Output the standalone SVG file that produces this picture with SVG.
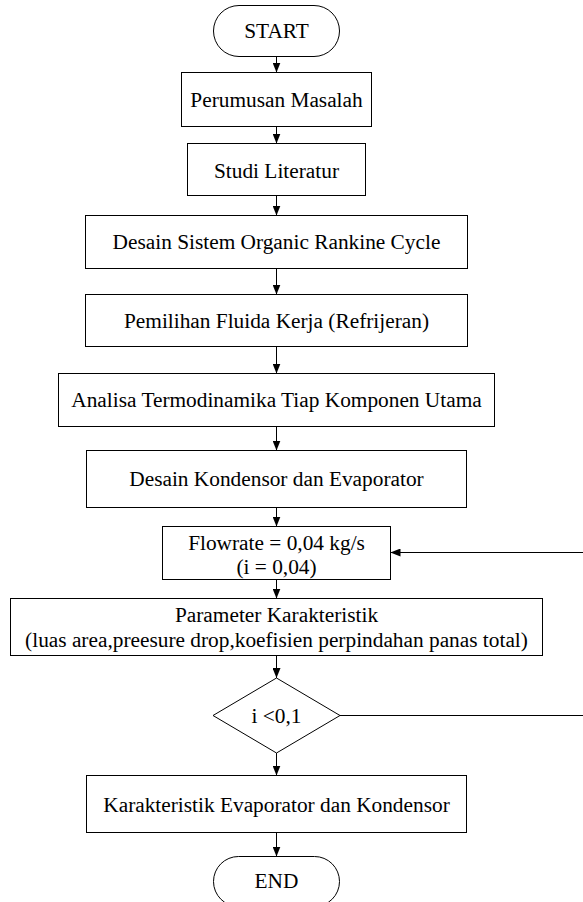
<svg xmlns="http://www.w3.org/2000/svg" width="583" height="902" viewBox="0 0 583 902">
  <style>
    .shape { fill: #ffffff; stroke: #000000; stroke-width: 1; }
    .label { font-family: "Liberation Serif", "Times New Roman", serif; font-size: 21.33px; fill: #000000; text-anchor: middle; }
    .flow { fill: none; stroke: #000000; stroke-width: 1; marker-end: url(#arrow); }
  </style>
  <defs>
    <marker id="arrow" markerUnits="userSpaceOnUse" markerWidth="10" markerHeight="8" refX="10" refY="4" orient="auto">
      <path d="M0,0 L10,4 L0,8 Z" fill="#000000"/>
    </marker>
  </defs>

  <rect width="583" height="902" fill="#ffffff"/>

  <!-- connectors -->
  <g id="connectors">
    <path class="flow" d="M276.5,56.5 V72.5"/>
    <path class="flow" d="M276.5,126.5 V143.5"/>
    <path class="flow" d="M276.5,195.5 V215.5"/>
    <path class="flow" d="M276.5,268.5 V294.5"/>
    <path class="flow" d="M276.5,346.5 V373.5"/>
    <path class="flow" d="M276.5,426.5 V450.5"/>
    <path class="flow" d="M276.5,507.5 V526.5"/>
    <path class="flow" d="M276.5,579.5 V598.5"/>
    <path class="flow" d="M276.5,655.5 V678"/>
    <path class="flow" d="M276.5,753 V775.5"/>
    <path class="flow" d="M276.5,832.5 V856.5"/>
    <!-- loop back from the decision to the flowrate step -->
    <path class="flow" d="M340,715.5 H586 V552.5 H390.5"/>
  </g>

  <g id="start">
    <rect class="shape" x="213.5" y="5.5" width="126" height="51" rx="25.5" ry="25.5"/>
    <text class="label" x="276.5" y="38">START</text>
  </g>

  <g id="perumusan-masalah">
    <rect class="shape" x="181.5" y="72.5" width="190" height="54"/>
    <text class="label" x="276.5" y="107">Perumusan Masalah</text>
  </g>

  <g id="studi-literatur">
    <rect class="shape" x="187.5" y="143.5" width="178" height="52"/>
    <text class="label" x="276.5" y="177.5">Studi Literatur</text>
  </g>

  <g id="desain-sistem">
    <rect class="shape" x="85.5" y="215.5" width="382" height="53"/>
    <text class="label" x="276.5" y="249">Desain Sistem Organic Rankine Cycle</text>
  </g>

  <g id="pemilihan-fluida">
    <rect class="shape" x="85.5" y="294.5" width="382" height="52"/>
    <text class="label" x="276.5" y="328">Pemilihan Fluida Kerja (Refrijeran)</text>
  </g>

  <g id="analisa-termodinamika">
    <rect class="shape" x="58.5" y="373.5" width="436" height="53"/>
    <text class="label" x="276.5" y="406.5">Analisa Termodinamika Tiap Komponen Utama</text>
  </g>

  <g id="desain-kondensor">
    <rect class="shape" x="86.5" y="450.5" width="380" height="57"/>
    <text class="label" x="276.5" y="486">Desain Kondensor dan Evaporator</text>
  </g>

  <g id="flowrate">
    <rect class="shape" x="162.5" y="526.5" width="228" height="53"/>
    <text class="label" x="276.5" y="549.5">Flowrate = 0,04 kg/s</text>
    <text class="label" x="276.5" y="573.5">(i = 0,04)</text>
  </g>

  <g id="parameter">
    <rect class="shape" x="10.5" y="598.5" width="532" height="57"/>
    <text class="label" x="276.5" y="622">Parameter Karakteristik</text>
    <text class="label" x="276.5" y="647">(luas area,preesure drop,koefisien perpindahan panas total)</text>
  </g>

  <g id="decision">
    <polygon class="shape" points="276.5,678 340,715.5 276.5,753 213,715.5"/>
    <text class="label" x="276.5" y="723">i &lt;0,1</text>
  </g>

  <g id="karakteristik">
    <rect class="shape" x="86.5" y="775.5" width="380" height="57"/>
    <text class="label" x="276.5" y="812">Karakteristik Evaporator dan Kondensor</text>
  </g>

  <g id="end">
    <rect class="shape" x="213.5" y="856.5" width="126" height="50" rx="25" ry="25"/>
    <text class="label" x="276.5" y="888">END</text>
  </g>
</svg>
